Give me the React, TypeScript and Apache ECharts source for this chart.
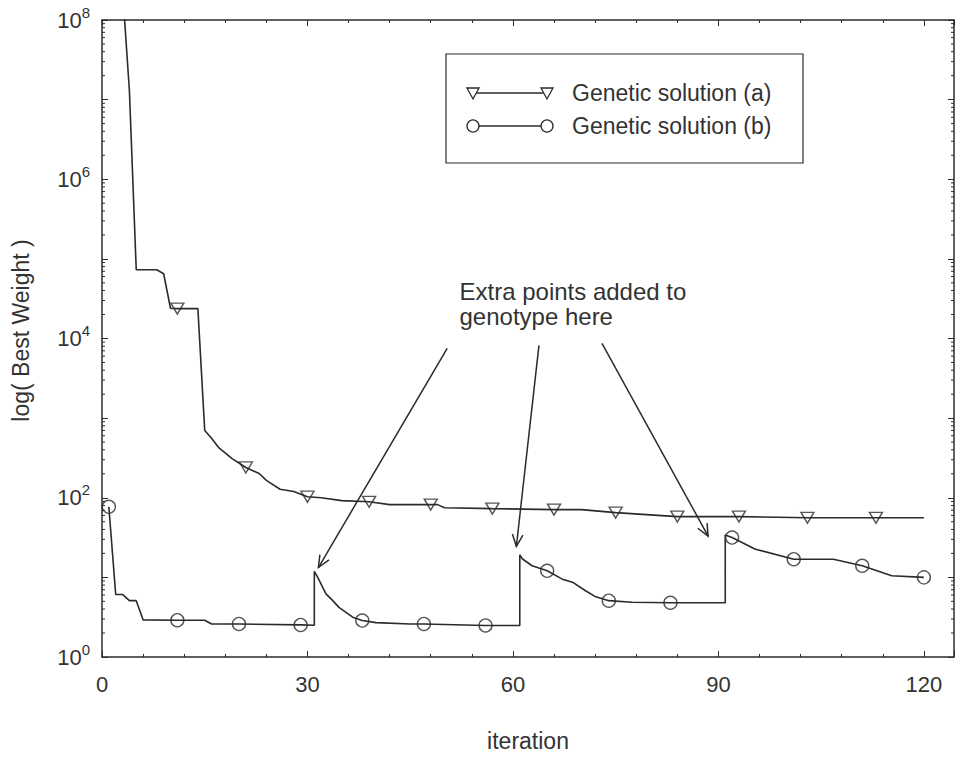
import React, { useEffect, useRef } from 'react';
import * as echarts from 'echarts';

// ---------- data ----------
const X_MIN = 0;
const X_MAX = 124.4;
const X_INTERVAL = 30;
const Y_MIN = 1;
const Y_MAX = 1e8;
const Y_LABEL_EXPONENTS = [0, 2, 4, 6, 8];

const seriesAName = 'Genetic solution (a)';
const seriesBName = 'Genetic solution (b)';

// [iteration, best weight]
const solutionA: [number, number][] = [
  [3, 2.4e8], [4, 1.3e7], [5, 7.3e4], [8, 7.3e4], [9, 6.5e4], [10, 2.4e4],
  [11, 2.37e4], [14, 2.37e4], [15, 700], [16, 560], [17, 430], [19, 310],
  [21, 240], [23, 200], [24, 165], [26, 128], [28, 120], [30, 103], [32, 100],
  [35, 92], [39, 89], [42, 82], [48, 82], [49, 82], [50, 75], [57, 73],
  [66, 71], [70, 71], [75, 65], [84, 58], [93, 58], [103, 56], [113, 56], [120, 56],
];

const solutionB: [number, number][] = [
  [1, 77], [2, 6.1], [3, 6.1], [4, 5.1], [5, 5.1], [6, 2.93], [11, 2.9],
  [15, 2.9], [16, 2.6], [20, 2.6], [29, 2.53], [31, 2.5], [31, 11.9],
  [31.5, 10], [32.7, 6.2], [33.7, 5.1], [34.6, 4.2], [36.6, 3.16], [38, 2.87],
  [40, 2.7], [45, 2.6], [47, 2.6], [56, 2.49], [61, 2.49], [61, 19.2],
  [61.4, 17], [62.8, 14], [65, 12.1], [67.2, 9.5], [68.7, 8.7], [70.6, 6.8],
  [72.1, 5.7], [74, 5.1], [77.4, 4.87], [83, 4.8], [91, 4.8], [91, 34],
  [92, 31.6], [95.4, 22.6], [101, 16.9], [106.8, 16.9], [111, 14],
  [115.3, 10.5], [120, 10],
];

const markerItersA = [11, 21, 30, 39, 48, 57, 66, 75, 84, 93, 103, 113];
const markerItersB = [1, 11, 20, 29, 38, 47, 56, 65, 74, 83, 92, 101, 111, 120];

const annotationLines = ['Extra points added to', 'genotype here'];
// annotation anchor (data coords) for the left/middle of each text line
const annotationTextAnchors: [number, number][] = [[52.2, 38700], [52.2, 18800]];
const annotationArrows: { from: [number, number]; to: [number, number] }[] = [
  { from: [50.4, 7500], to: [31.6, 13.3] },
  { from: [63.8, 8200], to: [60.5, 24.5] },
  { from: [73.0, 8700], to: [88.5, 33] },
];

const xAxisName = 'iteration';
const yAxisName = 'log( Best Weight )';

// ---------- style ----------
const FONT = '"Liberation Sans", Arial, Helvetica, sans-serif';
const INK = '#2b2b2b';
const TEXT = '#333';

const minorLogTicks: number[] = [];
for (let k = 0; k < 8; k++) {
  for (let m = 2; m <= 9; m++) minorLogTicks.push(m * Math.pow(10, k));
}

function arrowGraphic(p1: number[], p2: number[]) {
  const ang = Math.atan2(p2[1] - p1[1], p2[0] - p1[0]);
  const L = 13;
  const a = 0.42;
  const w1 = [p2[0] - L * Math.cos(ang - a), p2[1] - L * Math.sin(ang - a)];
  const w2 = [p2[0] - L * Math.cos(ang + a), p2[1] - L * Math.sin(ang + a)];
  return [
    { type: 'line', z: 50, shape: { x1: p1[0], y1: p1[1], x2: p2[0], y2: p2[1] }, style: { stroke: INK, lineWidth: 1.5 } },
    { type: 'polyline', z: 50, shape: { points: [w1, p2, w2] }, style: { stroke: INK, lineWidth: 1.5, fill: null } },
  ];
}

function legendGraphic() {
  const boxX = 446, boxY = 54, boxW = 357, boxH = 109;
  const rows = [
    { y: 93, name: seriesAName, kind: 'tri' },
    { y: 126, name: seriesBName, kind: 'circ' },
  ];
  const els: any[] = [
    { type: 'rect', z: 40, shape: { x: boxX, y: boxY, width: boxW, height: boxH }, style: { fill: '#fff', stroke: INK, lineWidth: 1.2 } },
  ];
  const x1 = 473, x2 = 547;
  rows.forEach((r) => {
    els.push({ type: 'line', z: 41, shape: { x1, y1: r.y, x2, y2: r.y }, style: { stroke: INK, lineWidth: 1.5 } });
    [x1, x2].forEach((cx) => {
      if (r.kind === 'tri') {
        els.push({
          type: 'polygon', z: 42,
          shape: { points: [[cx - 6, r.y - 5], [cx + 6, r.y - 5], [cx, r.y + 6]] },
          style: { fill: '#fff', stroke: INK, lineWidth: 1.3 },
        });
      } else {
        els.push({ type: 'circle', z: 42, shape: { cx, cy: r.y, r: 6 }, style: { fill: '#fff', stroke: INK, lineWidth: 1.3 } });
      }
    });
    els.push({
      type: 'text', z: 42, x: 572, y: r.y,
      style: { text: r.name, font: `23px ${FONT}`, fill: TEXT, textVerticalAlign: 'middle', verticalAlign: 'middle' },
    });
  });
  return els;
}

export default function App() {
  const ref = useRef<HTMLDivElement>(null);

  useEffect(() => {
    if (!ref.current) return;
    const chart = echarts.init(ref.current, undefined, { renderer: 'svg' });

    const markersA = solutionA.filter((d) => markerItersA.includes(d[0]));
    const markersB = solutionB.filter((d) => markerItersB.includes(d[0]));

    const xAxisBase = {
      type: 'value',
      min: X_MIN,
      max: X_MAX,
      interval: X_INTERVAL,
      axisLine: { show: true, onZero: false, lineStyle: { color: INK, width: 1.5 } },
      axisTick: { show: true, inside: true, length: 6, lineStyle: { color: INK, width: 1 } },
      minorTick: { show: true, splitNumber: 5, length: 3, lineStyle: { color: INK, width: 1 } },
      splitLine: { show: false },
      minorSplitLine: { show: false },
    };
    const yAxisBase = {
      type: 'log',
      logBase: 10,
      min: Y_MIN,
      max: Y_MAX,
      splitNumber: 8,
      axisLine: { show: true, onZero: false, lineStyle: { color: INK, width: 1.5 } },
      axisTick: { show: true, inside: true, length: 6, lineStyle: { color: INK, width: 1 } },
      splitLine: { show: false },
    };

    const option: any = {
      animation: false,
      backgroundColor: '#fff',
      grid: { left: 102, top: 20, width: 853, height: 640, containLabel: false },
      xAxis: [
        {
          ...xAxisBase,
          position: 'bottom',
          name: xAxisName,
          nameLocation: 'middle',
          nameGap: 72,
          nameTextStyle: { fontFamily: FONT, fontSize: 23, color: TEXT },
          axisLabel: {
            show: true, margin: 16, fontFamily: FONT, fontSize: 22, color: TEXT,
            formatter: (v: number) => (v % X_INTERVAL === 0 && v <= 120 ? String(v) : ''),
          },
        },
        { ...xAxisBase, position: 'top', axisLabel: { show: false } },
      ],
      yAxis: [
        {
          ...yAxisBase,
          position: 'left',
          name: yAxisName,
          nameLocation: 'middle',
          nameGap: 70,
          nameRotate: 90,
          nameTextStyle: { fontFamily: FONT, fontSize: 23, color: TEXT, padding: [0, 0, 0, 16] },
          axisLabel: {
            show: true, margin: 12, showMinLabel: true, showMaxLabel: true,
            formatter: (v: number) => {
              const e = Math.round(Math.log10(v));
              return Y_LABEL_EXPONENTS.includes(e) ? `{b|10}{s|${e}}` : '';
            },
            rich: {
              b: { fontFamily: FONT, fontSize: 22, color: TEXT },
              s: { fontFamily: FONT, fontSize: 15, color: TEXT, padding: [0, 0, 16, 0] },
            },
          },
        },
        { ...yAxisBase, position: 'right', axisLabel: { show: false } },
      ],
      series: [
        {
          name: seriesAName, type: 'line', data: solutionA, showSymbol: false,
          lineStyle: { color: INK, width: 1.6 }, itemStyle: { color: INK }, clip: true, z: 3,
        },
        {
          name: seriesAName + ' markers', type: 'scatter', data: markersA,
          symbol: 'triangle', symbolRotate: 180, symbolSize: [13, 11],
          itemStyle: { color: 'rgba(255,255,255,0)', borderColor: INK, borderWidth: 1.4 }, z: 4, silent: true,
        },
        {
          name: seriesBName, type: 'line', data: solutionB, showSymbol: false,
          lineStyle: { color: INK, width: 1.6 }, itemStyle: { color: INK }, clip: true, z: 3,
        },
        {
          name: seriesBName + ' markers', type: 'scatter', data: markersB,
          symbol: 'circle', symbolSize: 13,
          itemStyle: { color: 'rgba(255,255,255,0)', borderColor: INK, borderWidth: 1.4 }, z: 4, silent: true,
        },
        {
          name: 'log minor ticks', type: 'custom', silent: true, z: 2,
          data: minorLogTicks.map((v) => [0, v]),
          renderItem: (params: any, api: any) => {
            const v = api.value(1);
            const len = 3;
            const pl = api.coord([X_MIN, v]);
            const pr = api.coord([X_MAX, v]);
            return {
              type: 'group',
              children: [
                { type: 'line', shape: { x1: pl[0], y1: pl[1], x2: pl[0] + len, y2: pl[1] }, style: { stroke: INK, lineWidth: 1 } },
                { type: 'line', shape: { x1: pr[0] - len, y1: pr[1], x2: pr[0], y2: pr[1] }, style: { stroke: INK, lineWidth: 1 } },
              ],
            };
          },
        },
      ],
    };

    chart.setOption(option);

    const graphics: any[] = [...legendGraphic()];
    annotationLines.forEach((t, i) => {
      const p = chart.convertToPixel({ gridIndex: 0 }, annotationTextAnchors[i]) as number[];
      graphics.push({
        type: 'text', z: 50, x: p[0], y: p[1],
        style: { text: t, font: `24px ${FONT}`, fill: TEXT, verticalAlign: 'middle', textVerticalAlign: 'middle' },
      });
    });
    annotationArrows.forEach((a) => {
      const p1 = chart.convertToPixel({ gridIndex: 0 }, a.from) as number[];
      const p2 = chart.convertToPixel({ gridIndex: 0 }, a.to) as number[];
      graphics.push(...arrowGraphic(p1, p2));
    });
    chart.setOption({ graphic: graphics });

    return () => chart.dispose();
  }, []);

  return <div ref={ref} style={{ position: 'absolute', left: 0, top: 0, width: 957, height: 757 }} />;
}
